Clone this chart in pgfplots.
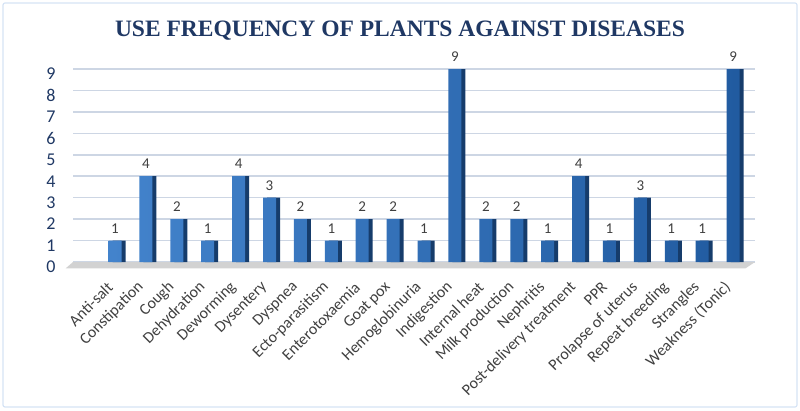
\documentclass[border=0pt]{standalone}
\usepackage{pgfplots}
\pgfplotsset{compat=1.18}
\usepackage{fontspec}
\setmainfont{Carlito}
\newfontfamily\titlefont{Liberation Serif}
\definecolor{titleblue}{HTML}{1F3864}
\definecolor{gridc}{HTML}{CDD6E4}
\definecolor{frontL}{HTML}{4383CC}
\definecolor{frontR}{HTML}{215BA0}
\definecolor{sidec}{HTML}{163C6B}
\definecolor{txt}{HTML}{404040}
\definecolor{framec}{HTML}{D5E3F5}
\begin{document}
\begin{tikzpicture}[x=1pt,y=1pt]
\useasboundingbox (0,0) rectangle (800,410);
\draw[framec, line width=1.2pt, rounded corners=2pt] (3,3) rectangle (797,407);
\node[font=\titlefont\bfseries\fontsize{23.5}{25}\selectfont, text=titleblue] at (400,379) {USE FREQUENCY OF PLANTS AGAINST DISEASES};
\begin{axis}[
  at={(73pt,148pt)}, anchor=south west,
  scale only axis, width=682pt, height=193pt,
  ymin=0, ymax=9, xmin=-1.36, xmax=20.71,
  ytick={0,...,9},
  xtick={0,...,20},
  xticklabels={Anti-salt,Constipation,Cough,Dehydration,Deworming,Dysentery,Dyspnea,Ecto-parasitism,Enterotoxaemia,Goat pox,Hemoglobinuria,Indigestion,Internal heat,Milk production,Nephritis,Post-delivery treatment,PPR,Prolapse of uterus,Repeat breeding,Strangles,Weakness (Tonic)},
  xticklabel style={rotate=45, anchor=east, inner sep=0pt, font=\fontsize{16}{16}\selectfont, text=txt, xshift=-19.5pt, yshift=-12.5pt},
  yticklabel style={font=\fontsize{18}{18}\selectfont, text=titleblue, xshift=-14pt, yshift=-5pt},
  /pgf/number format/assume math mode=true,
  axis line style={draw=none},
  major tick length=0pt,
  ymajorgrids, grid style={gridc, line width=1.6pt},
  clip=false,
  ybar, bar width=13pt,
]
\fill[gray!35] (axis cs:-1.36,0) -- (axis cs:20.71,0) -- (axis cs:20.4,-0.3) -- (axis cs:-1.6,-0.3) -- cycle;
\addplot[draw=none, fill=sidec, bar shift=4pt] coordinates {(0,1)(1,4)(2,2)(3,1)(4,4)(5,3)(6,2)(7,1)(8,2)(9,2)(10,1)(11,9)(12,2)(13,2)(14,1)(15,4)(16,1)(17,3)(18,1)(19,1)(20,9)};
\addplot[draw=none, left color=frontL, right color=frontR, bar shift=0pt,
  nodes near coords, every node near coord/.append style={font=\fontsize{15}{15}\selectfont, text=txt, yshift=4pt}] coordinates {(0,1)(1,4)(2,2)(3,1)(4,4)(5,3)(6,2)(7,1)(8,2)(9,2)(10,1)(11,9)(12,2)(13,2)(14,1)(15,4)(16,1)(17,3)(18,1)(19,1)(20,9)};
\end{axis}
\end{tikzpicture}
\end{document}
